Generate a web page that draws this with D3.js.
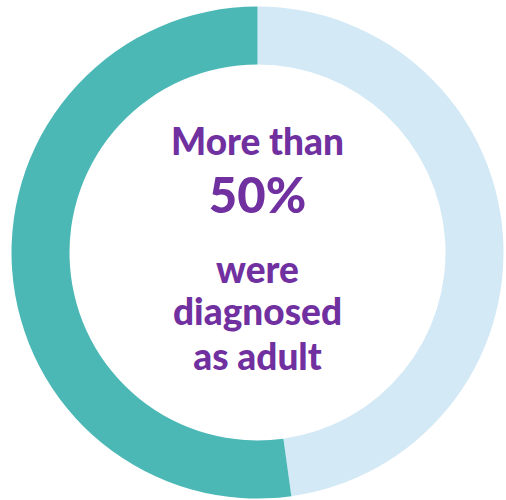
<!DOCTYPE html>
<html><head><meta charset="utf-8">
<script src="https://cdn.jsdelivr.net/npm/d3@7"></script>
<style>html,body{margin:0;padding:0;background:#fff;}</style>
</head><body><svg id="c" width="506" height="500"></svg>
<script>
const categories = ["Diagnosed as child", "Diagnosed as adult"];
const values = [47.8, 52.2];
const colors = ["#D3E9F5", "#4BB8B6"];
const textLines = ["More than", "50%", "were", "diagnosed", "as adult"];
const textSizes = [37, 49, 37, 37, 37];
const textBaselines = [155, 213, 283, 325, 370];

const svg = d3.select("#c");
const cx = 257.5, cy = 252.5, R = 246, r = 188;
const g = svg.append("g").attr("transform", `translate(${cx},${cy})`);
const pie = d3.pie().sort(null).value(d => d)(values);
const arc = d3.arc().innerRadius(r).outerRadius(R);
const color = d3.scaleOrdinal().domain(categories).range(colors);
g.selectAll("path").data(pie).join("path")
  .attr("d", arc)
  .attr("fill", (d, i) => color(categories[i]));

svg.selectAll("text.t").data(textLines).join("text")
  .attr("class", "t")
  .attr("x", cx)
  .attr("y", (d, i) => textBaselines[i])
  .attr("text-anchor", "middle")
  .attr("font-family", "Lato, 'Open Sans', sans-serif")
  .attr("font-weight", "900")
  .attr("font-size", (d, i) => textSizes[i])
  .attr("fill", "#7030A0")
  .text(d => d);
</script></body></html>
